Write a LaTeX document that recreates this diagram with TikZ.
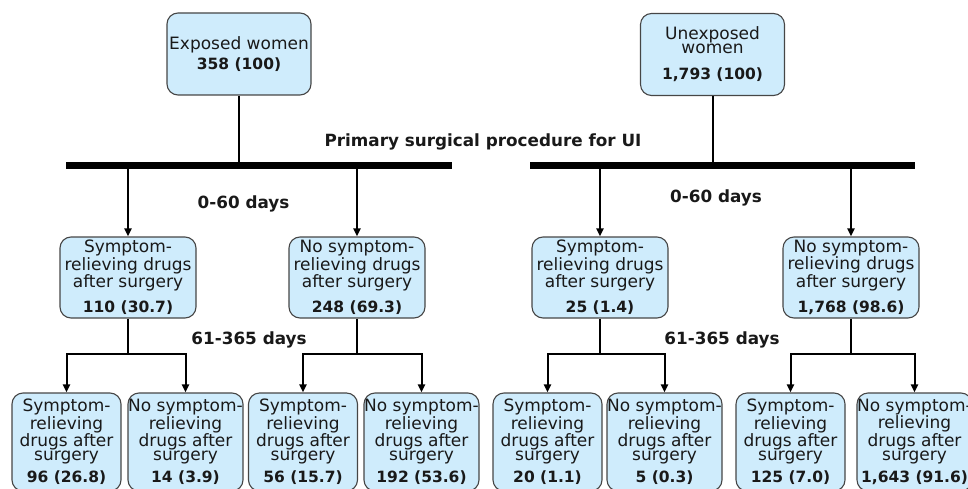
\documentclass[tikz,border=0pt]{standalone}
\usepackage{fontspec}
\setmainfont{DejaVu Sans}
\usetikzlibrary{arrows.meta}
\definecolor{boxfill}{RGB}{207,236,252}
\definecolor{boxline}{RGB}{70,70,70}
\definecolor{txt}{RGB}{25,25,25}
\newcommand\cnum[1]{{\fontsize{15.5}{15}\bfseries\selectfont #1}}
\begin{document}
\begin{tikzpicture}[x=1pt,y=-1pt,
 fbox/.style={draw=boxline, fill=boxfill, line width=1.1pt, rounded corners=11pt, inner sep=0pt, align=center, text=txt, font=\fontsize{17}{14}\selectfont},
 topbox/.style={fbox, minimum width=144pt, minimum height=82pt},
 midbox/.style={fbox, minimum width=136pt, minimum height=81pt},
 sbox/.style={fbox, minimum width=109pt, minimum height=98pt},
 nbox/.style={fbox, minimum width=115pt, minimum height=98pt},
 lbl/.style={font=\fontsize{16.8}{17}\bfseries\selectfont, text=txt, inner sep=0pt},
 conn/.style={line width=2pt, draw=black},
 arr/.style={conn, -{Triangle[width=7pt,length=8pt]}},
 bar/.style={line width=7pt, draw=black}]
\useasboundingbox (0,0) rectangle (968,489);
\clip (0,0) rectangle (968,489);

% top boxes
\node[topbox] (exp) at (239,54) {Exposed women\\[4pt]\cnum{358 (100)}};
\node[topbox] (unexp) at (712.5,54.5) {Unexposed\\women\\[12pt]\cnum{1,793 (100)}};

% bars
\coordinate (barL1) at (66,165.5);
\coordinate (barL2) at (452,165.5);
\coordinate (barR1) at (530,165.5);
\coordinate (barR2) at (915,165.5);
\draw[conn] (exp.south) -- (exp.south |- barL1);
\draw[conn] (unexp.south) -- (unexp.south |- barR1);
\draw[bar] (barL1) -- (barL2);
\draw[bar] (barR1) -- (barR2);

\node[lbl] (prim) at (483,142) {Primary surgical procedure for UI};

% level 2
\node[midbox] (s1) at (128,277.5) {Symptom-\\relieving drugs\\after surgery\\[9pt]\cnum{110 (30.7)}};
\node[midbox] (n1) at (357,277.5) {No symptom-\\relieving drugs\\after surgery\\[9pt]\cnum{248 (69.3)}};
\node[midbox] (s2) at (600,277.5) {Symptom-\\relieving drugs\\after surgery\\[9pt]\cnum{25 (1.4)}};
\node[midbox] (n2) at (851,277.5) {No symptom-\\relieving drugs\\after surgery\\[9pt]\cnum{1,768 (98.6)}};

\draw[arr] (s1.north |- barL1) -- (s1.north);
\draw[arr] (n1.north |- barL1) -- (n1.north);
\draw[arr] (s2.north |- barR1) -- (s2.north);
\draw[arr] (n2.north |- barR1) -- (n2.north);

\node[lbl] (d1) at (243.5,204) {0-60 days};
\node[lbl] (d2) at (716,198) {0-60 days};
\node[lbl] (d3) at (249,340) {61-365 days};
\node[lbl] (d4) at (722,340) {61-365 days};

% level 3
\node[sbox] (b1) at (66.5,442) {Symptom-\\relieving\\drugs after\\surgery\\[6pt]\cnum{96 (26.8)}};
\node[nbox] (b2) at (185.5,442) {No symptom-\\relieving\\drugs after\\surgery\\[6pt]\cnum{14 (3.9)}};
\node[sbox] (b3) at (303,442) {Symptom-\\relieving\\drugs after\\surgery\\[6pt]\cnum{56 (15.7)}};
\node[nbox] (b4) at (421.5,442) {No symptom-\\relieving\\drugs after\\surgery\\[6pt]\cnum{192 (53.6)}};
\node[sbox] (b5) at (547.5,442) {Symptom-\\relieving\\drugs after\\surgery\\[6pt]\cnum{20 (1.1)}};
\node[nbox] (b6) at (664.5,442) {No symptom-\\relieving\\drugs after\\surgery\\[6pt]\cnum{5 (0.3)}};
\node[sbox] (b7) at (790.5,442) {Symptom-\\relieving\\drugs after\\surgery\\[6pt]\cnum{125 (7.0)}};
\node[nbox] (b8) at (914.5,442) {No symptom-\\relieving\\drugs after\\surgery\\[6pt]\cnum{1,643 (91.6)}};

\coordinate (j) at (0,353.5);
\draw[arr] (s1.south) -- (s1.south |- j) -| (b1.north);
\draw[arr] (s1.south |- j) -| (b2.north);
\draw[arr] (n1.south) -- (n1.south |- j) -| (b3.north);
\draw[arr] (n1.south |- j) -| (b4.north);
\draw[arr] (s2.south) -- (s2.south |- j) -| (b5.north);
\draw[arr] (s2.south |- j) -| (b6.north);
\draw[arr] (n2.south) -- (n2.south |- j) -| (b7.north);
\draw[arr] (n2.south |- j) -| (b8.north);
\end{tikzpicture}
\end{document}
